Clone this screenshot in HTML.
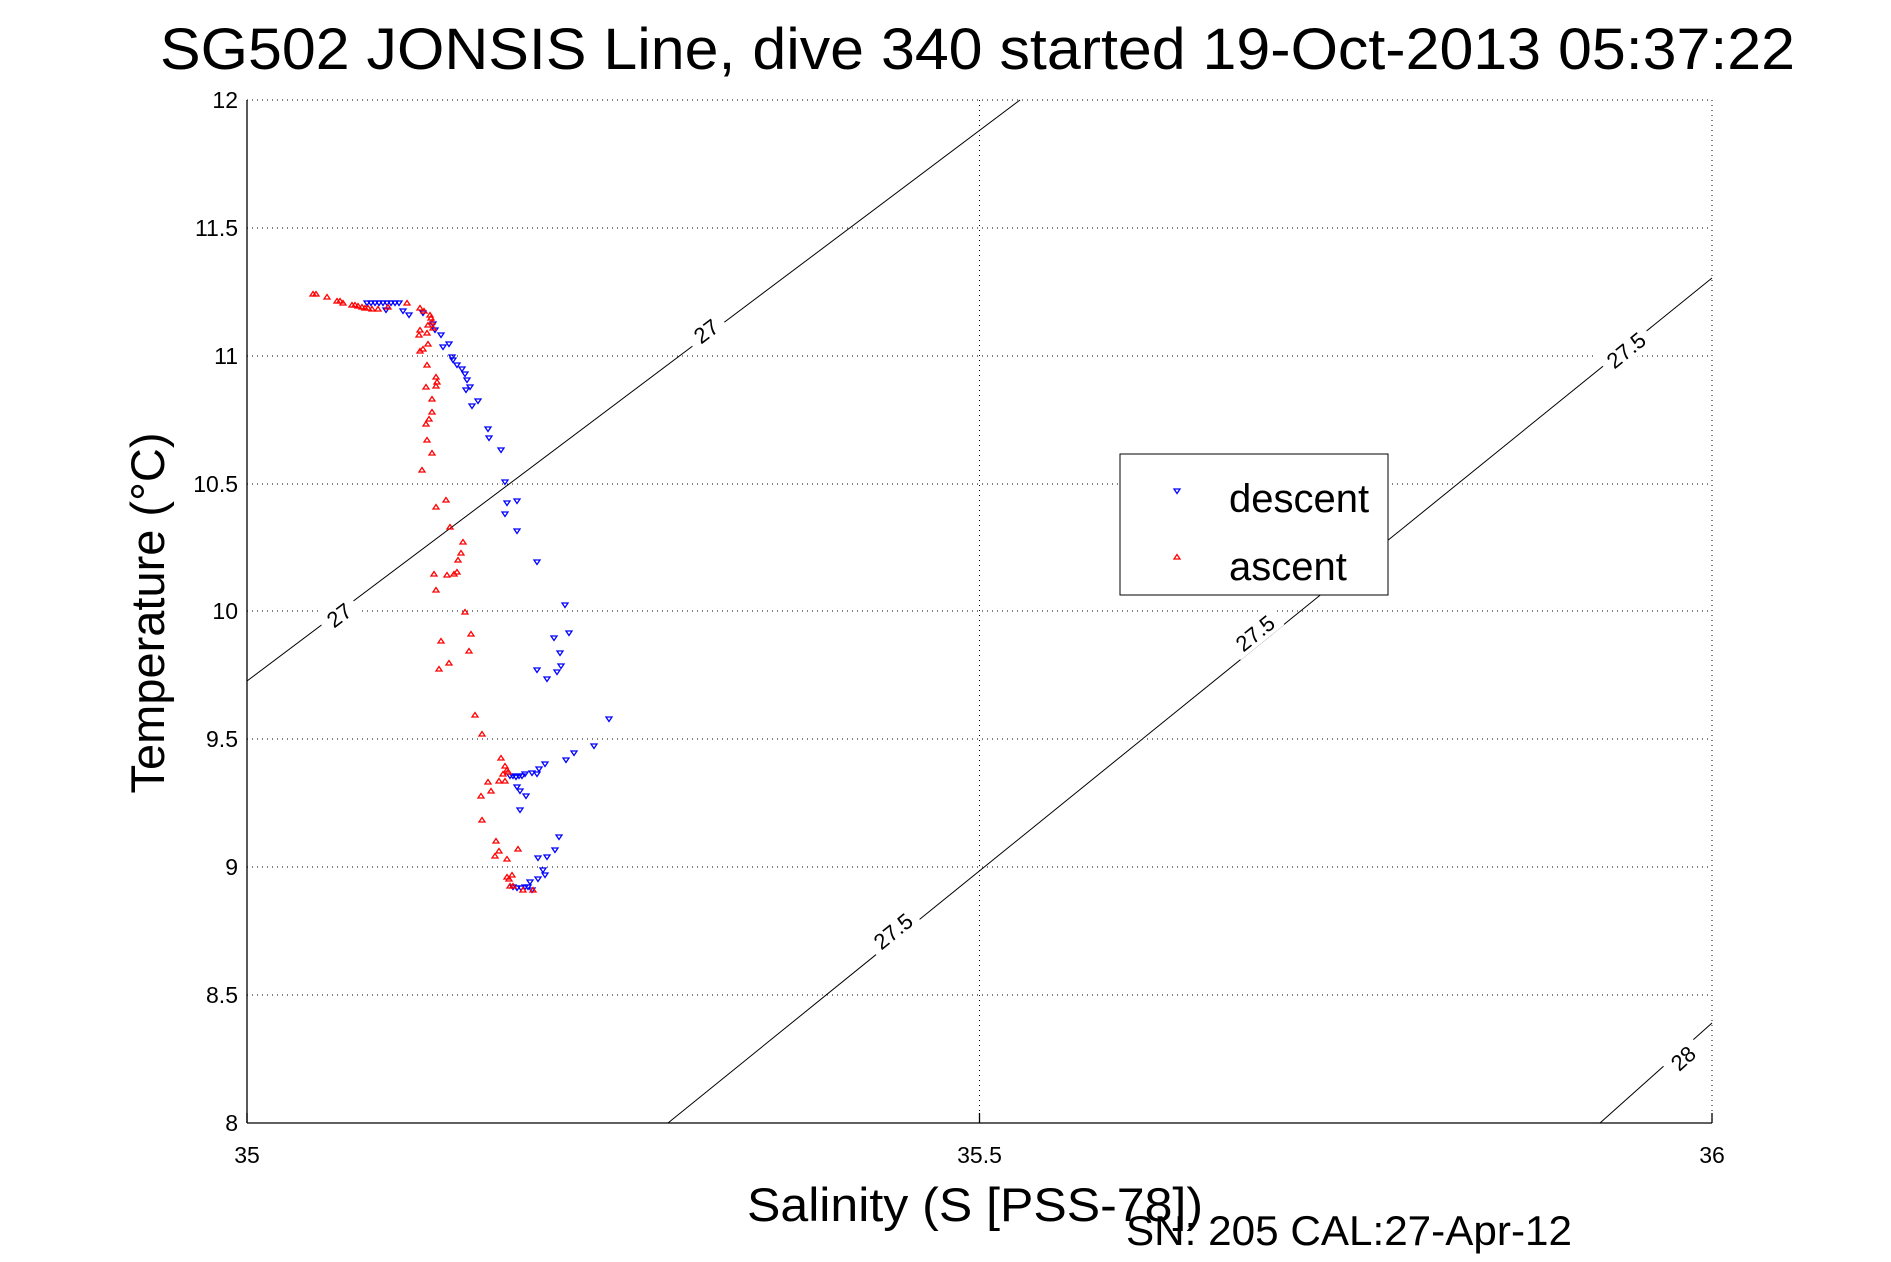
<!DOCTYPE html>
<html><head><meta charset="utf-8"><style>html,body{margin:0;padding:0;background:#fff}svg{display:block}</style></head>
<body>
<svg width="1891" height="1262" xmlns="http://www.w3.org/2000/svg" font-family="Liberation Sans, sans-serif">
<rect width="1891" height="1262" fill="#fff"/>
<text x="160" y="69" font-size="58" textLength="1635" lengthAdjust="spacingAndGlyphs">SG502 JONSIS Line, dive 340 started 19-Oct-2013 05:37:22</text>
<g stroke="#000" stroke-width="1" stroke-dasharray="1,4" fill="none">
<line x1="247" y1="100" x2="1712" y2="100"/>
<line x1="247" y1="228" x2="1712" y2="228"/>
<line x1="247" y1="356" x2="1712" y2="356"/>
<line x1="247" y1="484" x2="1712" y2="484"/>
<line x1="247" y1="611" x2="1712" y2="611"/>
<line x1="247" y1="739" x2="1712" y2="739"/>
<line x1="247" y1="867" x2="1712" y2="867"/>
<line x1="247" y1="995" x2="1712" y2="995"/>
<line x1="979.5" y1="100" x2="979.5" y2="1123"/>
<line x1="1712" y1="100" x2="1712" y2="1123"/>
</g>
<g stroke="#000" stroke-width="1.3" fill="none">
<line x1="247" y1="100" x2="247" y2="1123"/>
<line x1="247" y1="1123" x2="1712" y2="1123"/>
<line x1="247" y1="1113" x2="247" y2="1123"/>
<line x1="979.5" y1="1113" x2="979.5" y2="1123"/>
<line x1="1712" y1="1113" x2="1712" y2="1123"/>
</g>
<!-- isopycnals -->
<g stroke="#000" stroke-width="1" fill="none">
<line x1="247" y1="681" x2="1020" y2="100"/>
<line x1="668" y1="1123" x2="1712" y2="278"/>
<line x1="1600" y1="1123" x2="1712" y2="1023"/>
</g>
<g font-size="22" text-anchor="middle">
<g transform="translate(706,331) rotate(-37)"><rect x="-20" y="-14" width="40" height="26" fill="#fff"/><text y="8">27</text></g>
<g transform="translate(339,615) rotate(-37)"><rect x="-20" y="-14" width="40" height="26" fill="#fff"/><text y="8">27</text></g>
<g transform="translate(893,931) rotate(-39)"><rect x="-28" y="-14" width="56" height="26" fill="#fff"/><text y="8">27.5</text></g>
<g transform="translate(1255,633) rotate(-39)"><rect x="-28" y="-14" width="56" height="26" fill="#fff"/><text y="8">27.5</text></g>
<g transform="translate(1626,350) rotate(-39)"><rect x="-28" y="-14" width="56" height="26" fill="#fff"/><text y="8">27.5</text></g>
<g transform="translate(1683,1058) rotate(-42)"><rect x="-20" y="-14" width="40" height="26" fill="#fff"/><text y="8">28</text></g>
</g>
<!-- tick labels -->
<g font-size="23" text-anchor="end">
<text x="238" y="108">12</text>
<text x="238" y="236">11.5</text>
<text x="238" y="364">11</text>
<text x="238" y="492">10.5</text>
<text x="238" y="619">10</text>
<text x="238" y="747">9.5</text>
<text x="238" y="875">9</text>
<text x="238" y="1003">8.5</text>
<text x="238" y="1131">8</text>
</g>
<g font-size="23" text-anchor="middle">
<text x="247" y="1163">35</text>
<text x="979.5" y="1163">35.5</text>
<text x="1712" y="1163">36</text>
</g>
<text transform="translate(164,613) rotate(-90)" font-size="47" text-anchor="middle">Temperature (°C)</text>
<text x="747" y="1221" font-size="47" textLength="456" lengthAdjust="spacingAndGlyphs">Salinity (S [PSS-78])</text>
<text x="1126" y="1245" font-size="42" textLength="446" lengthAdjust="spacingAndGlyphs">SN: 205  CAL:27-Apr-12</text>
<defs>
<path id="d" d="M-3,-2 L3,-2 L0,2.5 Z" fill="none" stroke="#00f" stroke-width="1.3"/>
<path id="a" d="M-3,2 L3,2 L0,-2.5 Z" fill="none" stroke="#f00" stroke-width="1.3"/>
</defs>
<g id="desc"></g>
<g id="asc"></g>
<!-- legend -->
<rect x="1120" y="454" width="268" height="141" fill="#fff" stroke="#000" stroke-width="1"/>
<use href="#d" x="1177" y="491"/>
<use href="#a" x="1177" y="557"/>
<text x="1229" y="512" font-size="40">descent</text>
<text x="1229" y="580" font-size="40">ascent</text>
<script>
var D=[[367,303],[371,303],[375,303],[379,303],[383,303],[387,303],[391,303],[395,303],[399,303],[386,310],[403,311],[409,315],[423,313],[433,324],[435,330],[441,335],[443,347],[449,344],[452,357],[453,360],[457,365],[462,369],[465,374],[467,380],[470,387],[466,390],[472,406],[478,401],[488,429],[489,438],[501,450],[505,482],[507,503],[517,501],[505,514],[517,531],[537,562],[565,605],[554,638],[569,633],[560,653],[561,666],[557,672],[537,670],[547,679],[609,719],[594,746],[574,753],[566,760],[545,764],[539,769],[537,774],[532,773],[525,774],[510,776],[513,776],[516,777],[519,776],[522,776],[517,787],[520,791],[526,796],[520,810],[559,837],[555,850],[547,857],[538,858],[543,870],[545,875],[538,879],[530,882],[528,887],[513,887],[517,888],[521,888],[525,887],[532,890]];
var A=[[313,294],[316,294],[327,297],[337,301],[340,301],[343,303],[352,305],[355,305],[358,306],[362,307],[365,308],[368,308],[372,309],[378,309],[388,307],[407,303],[420,308],[424,311],[430,315],[431,318],[432,322],[428,325],[433,328],[420,330],[419,335],[427,333],[428,344],[423,349],[420,351],[427,365],[436,377],[437,382],[436,386],[426,387],[432,399],[432,412],[429,419],[426,424],[427,440],[432,453],[422,470],[446,500],[436,507],[450,527],[463,542],[461,553],[458,560],[457,572],[454,574],[447,575],[434,574],[436,590],[465,612],[471,634],[441,641],[469,651],[449,663],[439,669],[475,715],[482,734],[501,758],[505,766],[507,770],[503,774],[508,772],[499,781],[505,781],[488,782],[491,791],[481,796],[482,820],[496,841],[499,851],[495,856],[507,859],[518,849],[512,875],[509,879],[510,886],[513,886],[523,890],[533,890],[507,877]];
var ns="http://www.w3.org/2000/svg";
function put(g,arr,id){var e=document.getElementById(g);arr.forEach(function(p){var u=document.createElementNS(ns,"use");u.setAttribute("href","#"+id);u.setAttribute("x",p[0]);u.setAttribute("y",p[1]);e.appendChild(u);});}
put("desc",D,"d");put("asc",A,"a");
</script>
</svg>
</body></html>
